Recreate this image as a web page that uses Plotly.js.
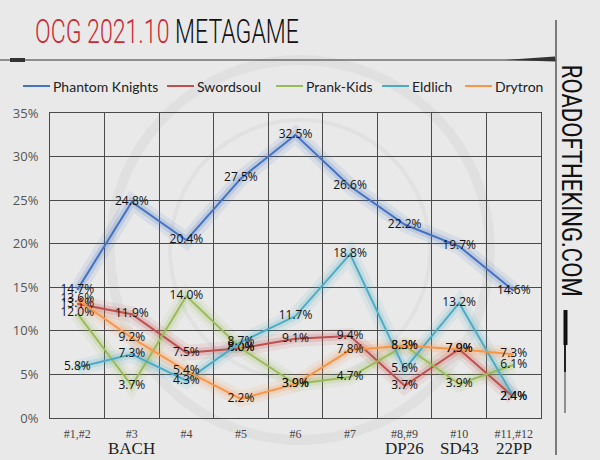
<!DOCTYPE html>
<html>
<head>
<meta charset="utf-8">
<script src="https://cdn.plot.ly/plotly-3.0.1.min.js"></script>
<style>
  html, body { margin: 0; padding: 0; background: #e9e9e9; }
  #chart { width: 600px; height: 460px; }
</style>
</head>
<body>
<div id="chart"></div>
<script>
// OCG 2021.10 metagame share per event
const events = ['#1,#2', '#3', '#4', '#5', '#6', '#7', '#8,#9', '#10', '#11,#12'];
const setNames = ['', 'BACH', '', '', '', '', 'DP26', 'SD43', '22PP'];

const phantomKnights = [14.7, 24.8, 20.4, 27.5, 32.5, 26.6, 22.2, 19.7, 14.6];
const swordsoul = [13.1, 11.9, 7.5, 8.0, 9.1, 9.4, 3.7, 7.9, 2.4];
const prankKids = [12.0, 3.7, 14.0, 8.0, 3.9, 4.7, 8.3, 3.9, 6.1];
const eldlich = [5.8, 7.3, 4.3, 8.7, 11.7, 18.8, 5.6, 13.2, 2.4];
const drytron = [13.6, 9.2, 5.4, 2.2, 3.9, 7.8, 8.3, 7.9, 7.3];

const series = [
    { name: 'Phantom Knights', y: phantomKnights, color: '68,114,196' },
    { name: 'Swordsoul', y: swordsoul, color: '192,80,77' },
    { name: 'Prank-Kids', y: prankKids, color: '155,187,89' },
    { name: 'Eldlich', y: eldlich, color: '75,172,198' },
    { name: 'Drytron', y: drytron, color: '247,150,70' }
];

// plot area in pixels, used to place decorations outside of it
const L = 50, R = 541, T = 113, B = 418;
const px = x => (x - L) / (R - L);
const py = y => (B - y) / (B - T);

// legend is drawn by hand so it stays on one row
const legendX = [23, 167, 276, 382, 465];
const legendY = 86;

const tickText = events.map(e => e.replace(',', "<span style='color:#c0392b'>,</span>"));

const traces = [];
// soft glow under each line
series.forEach(s => {
    [[16, 0.10], [8, 0.18]].forEach(([w, a]) => {
        traces.push({
            x: events, y: s.y, mode: 'lines', showlegend: false, hoverinfo: 'skip',
            line: { color: 'rgba(' + s.color + ',' + a + ')', width: w }
        });
    });
});
series.forEach(s => {
    traces.push({
        x: events, y: s.y, name: s.name, mode: 'lines+text', showlegend: false,
        line: { color: 'rgb(' + s.color + ')', width: 2 },
        texttemplate: '%{y:.1f}%',
        textposition: 'middle center',
        textfont: { family: 'Open Sans, sans-serif', size: 12, color: '#111' }
    });
});

const annotations = [
    {
        xref: 'paper', yref: 'paper', x: px(33), y: py(31), xanchor: 'left', yanchor: 'middle',
        text: "<span style='color:#c92a32'>OCG 2021.10</span> METAGAME",
        showarrow: false, font: { family: 'Roboto, sans-serif', size: 34, weight: 300, color: '#111' }
    },
    {
        xref: 'paper', yref: 'paper', x: px(571), y: py(181), xanchor: 'center', yanchor: 'middle',
        text: 'ROADOFTHEKING.COM', textangle: 90,
        showarrow: false, font: { family: 'Roboto, sans-serif', size: 27, color: '#111' }
    }
];
// squeeze these two to the condensed look of the original
const squeeze = [{ index: 0, width: 264, anchor: 'left' }, { index: 1, width: 232, anchor: 'center' }];

setNames.forEach((n, i) => {
    if (!n) return;
    annotations.push({
        xref: 'x', yref: 'paper', x: events[i], y: py(448), yanchor: 'middle',
        text: n, showarrow: false,
        font: { family: 'Liberation Serif, serif', size: 17, color: '#222' }
    });
});

const shapes = [
    { type: 'line', xref: 'paper', yref: 'paper', x0: px(0), x1: px(556), y0: py(60), y1: py(60),
      line: { color: '#333', width: 1.2 } },
    { type: 'line', xref: 'paper', yref: 'paper', x0: px(10), x1: px(25), y0: py(60), y1: py(60),
      line: { color: '#333', width: 4 } },
    { type: 'path', xref: 'paper', yref: 'paper',
      path: 'M ' + px(505) + ',' + py(60) + ' L ' + px(555) + ',' + py(56.5) + ' L ' + px(555) + ',' + py(61.5) + ' Z',
      fillcolor: '#333', line: { width: 0 } },
    { type: 'line', xref: 'paper', yref: 'paper', x0: px(556), x1: px(556), y0: py(20), y1: py(455),
      line: { color: '#333', width: 1.2 } },
    { type: 'line', xref: 'paper', yref: 'paper', x0: px(565.5), x1: px(565.5), y0: py(310), y1: py(345),
      line: { color: '#111', width: 4 } },
    { type: 'line', xref: 'paper', yref: 'paper', x0: px(565), x1: px(565), y0: py(345), y1: py(372),
      line: { color: '#222', width: 2 } },
    { type: 'line', xref: 'paper', yref: 'paper', x0: px(565), x1: px(565), y0: py(372), y1: py(413),
      line: { color: '#333', width: 1 } },
    // faint background rings
    { type: 'circle', xref: 'paper', yref: 'paper', layer: 'below',
      x0: px(110), x1: px(490), y0: py(60), y1: py(440),
      line: { color: 'rgba(0,0,0,0.035)', width: 10 } },
    { type: 'circle', xref: 'paper', yref: 'paper', layer: 'below',
      x0: px(170), x1: px(430), y0: py(120), y1: py(380),
      line: { color: 'rgba(0,0,0,0.03)', width: 4 } }
];

series.forEach((s, i) => {
    shapes.push({
        type: 'line', xref: 'paper', yref: 'paper',
        x0: px(legendX[i]), x1: px(legendX[i] + 27), y0: py(legendY), y1: py(legendY),
        line: { color: 'rgb(' + s.color + ')', width: 2 }
    });
    annotations.push({
        xref: 'paper', yref: 'paper', x: px(legendX[i] + 28), y: py(legendY),
        xanchor: 'left', yanchor: 'middle', showarrow: false, text: s.name,
        font: { family: 'Lato, sans-serif', size: 14, color: '#222' }
    });
});

const layout = {
    width: 600, height: 460,
    margin: { l: L, r: 600 - R, t: T, b: 460 - B },
    paper_bgcolor: '#e9e9e9',
    plot_bgcolor: 'rgba(0,0,0,0)',
    showlegend: false,
    xaxis: {
        type: 'category', range: [-0.5, 8.5], tickson: 'boundaries',
        tickvals: events, ticktext: tickText, ticks: '',
        showgrid: true, gridcolor: '#4a4a4a', gridwidth: 1,
        showline: true, linecolor: '#4a4a4a', mirror: true,
        tickfont: { family: 'Liberation Serif, serif', size: 12, color: '#444' },
        ticklabelstandoff: 5,
        fixedrange: true
    },
    yaxis: {
        range: [0, 35], dtick: 5, ticksuffix: '%',
        showgrid: true, gridcolor: '#4a4a4a', gridwidth: 1,
        zeroline: false, showline: true, linecolor: '#4a4a4a', mirror: true,
        tickfont: { family: 'Open Sans, sans-serif', size: 13, color: '#555' },
        ticklabelstandoff: 8,
        fixedrange: true
    },
    annotations: annotations,
    shapes: shapes
};

Plotly.newPlot('chart', traces, layout, { displayModeBar: false, staticPlot: true }).then(gd => {
    squeeze.forEach(sq => {
        const t = gd.querySelector('.annotation[data-index="' + sq.index + '"] text');
        if (!t) return;
        const bb = t.getBBox();
        const s = sq.width / bb.width;
        const ox = sq.anchor === 'left' ? bb.x : bb.x + bb.width / 2;
        t.setAttribute('transform', 'translate(' + ox + ',0) scale(' + s + ',1) translate(' + (-ox) + ',0)');
    });
});
</script>
</body>
</html>
